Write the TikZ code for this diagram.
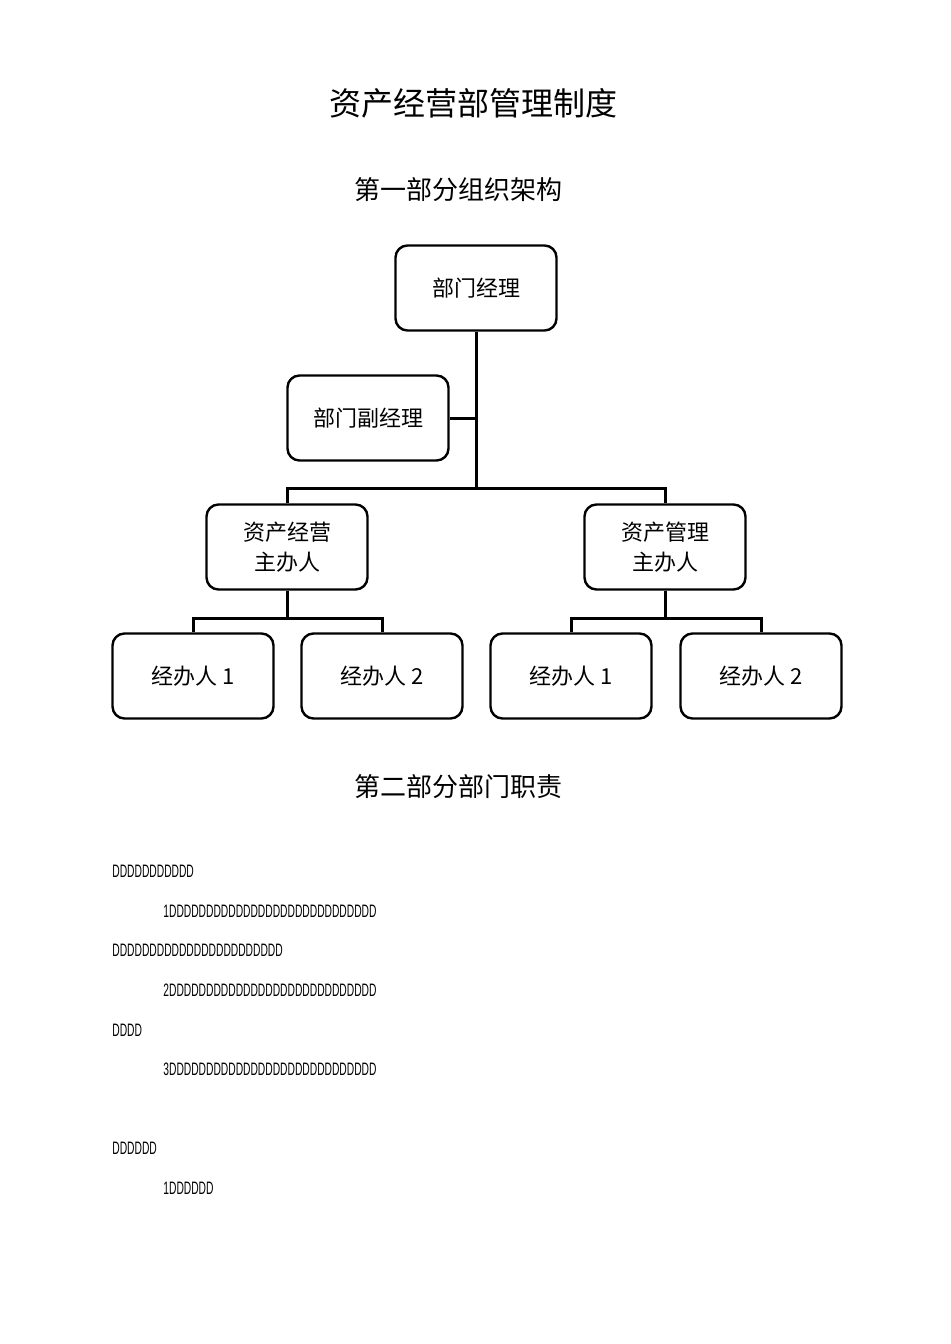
\documentclass[tikz,border=0pt]{standalone}
\usepackage{fontspec}
\setmainfont{Liberation Sans}
\newfontfamily\cjk{Noto Sans CJK SC}
\usetikzlibrary{positioning}
\tikzset{
  box/.style={draw, rounded corners=6pt, line width=1.2pt, minimum width=80.5pt, minimum height=42.5pt, align=center, font=\cjk\fontsize{11}{15}\selectfont},
  link/.style={line width=1.5pt},
  dtext/.style={anchor=west, inner sep=0pt, font=\fontsize{9}{9}\selectfont},
}
\newcommand{\narrow}[1]{\scalebox{0.57}[1]{#1}}
\begin{document}
\begin{tikzpicture}[x=0.5pt,y=-0.5pt]
  \useasboundingbox (0,0) rectangle (950,1344);
  \node (title) at (473,103) {\cjk\fontsize{16}{16}\selectfont 资产经营部管理制度};
  \node (part1) at (458,190) {\cjk\fontsize{13}{13}\selectfont 第一部分组织架构};
  \node (part2) at (458,787) {\cjk\fontsize{13}{13}\selectfont 第二部分部门职责};

  \node (mgr) [box] at (476,288) {部门经理};
  \node (vice) [box] at (368,418) {部门副经理};
  \node (opr) [box] at (287,547) {资产经营\\主办人};
  \node (adm) [box] at (665,547) {资产管理\\主办人};
  \node (a1) [box] at (193,676) {经办人 1};
  \node (a2) [box] at (382,676) {经办人 2};
  \node (b1) [box] at (571,676) {经办人 1};
  \node (b2) [box] at (761,676) {经办人 2};

  \coordinate (hub) at (476,488);
  \coordinate (opr top) at (287,488);
  \coordinate (adm top) at (665,488);
  \draw [link] (mgr.south) -- (hub);
  \draw [link] (vice.east) -- (vice.east -| mgr.south);
  \draw [link] (opr.north) -- (opr top) -- (adm top) -- (adm.north);
  \draw [link] (opr.south) -- (287,618) -| (a1.north);
  \draw [link] (287,618) -| (a2.north);
  \draw [link] (adm.south) -- (665,618) -| (b1.north);
  \draw [link] (665,618) -| (b2.north);

  \node (l1) [dtext] at (112,871) {\narrow{DDDDDDDDDDD}};
  \node (l2) [dtext] at (163,911) {\narrow{1DDDDDDDDDDDDDDDDDDDDDDDDDDDD}};
  \node (l3) [dtext] at (112,950) {\narrow{DDDDDDDDDDDDDDDDDDDDDDD}};
  \node (l4) [dtext] at (163,990) {\narrow{2DDDDDDDDDDDDDDDDDDDDDDDDDDDD}};
  \node (l5) [dtext] at (112,1030) {\narrow{DDDD}};
  \node (l6) [dtext] at (163,1069) {\narrow{3DDDDDDDDDDDDDDDDDDDDDDDDDDDD}};
  \node (l7) [dtext] at (112,1148) {\narrow{DDDDDD}};
  \node (l8) [dtext] at (163,1188) {\narrow{1DDDDDD}};
\end{tikzpicture}
\end{document}
